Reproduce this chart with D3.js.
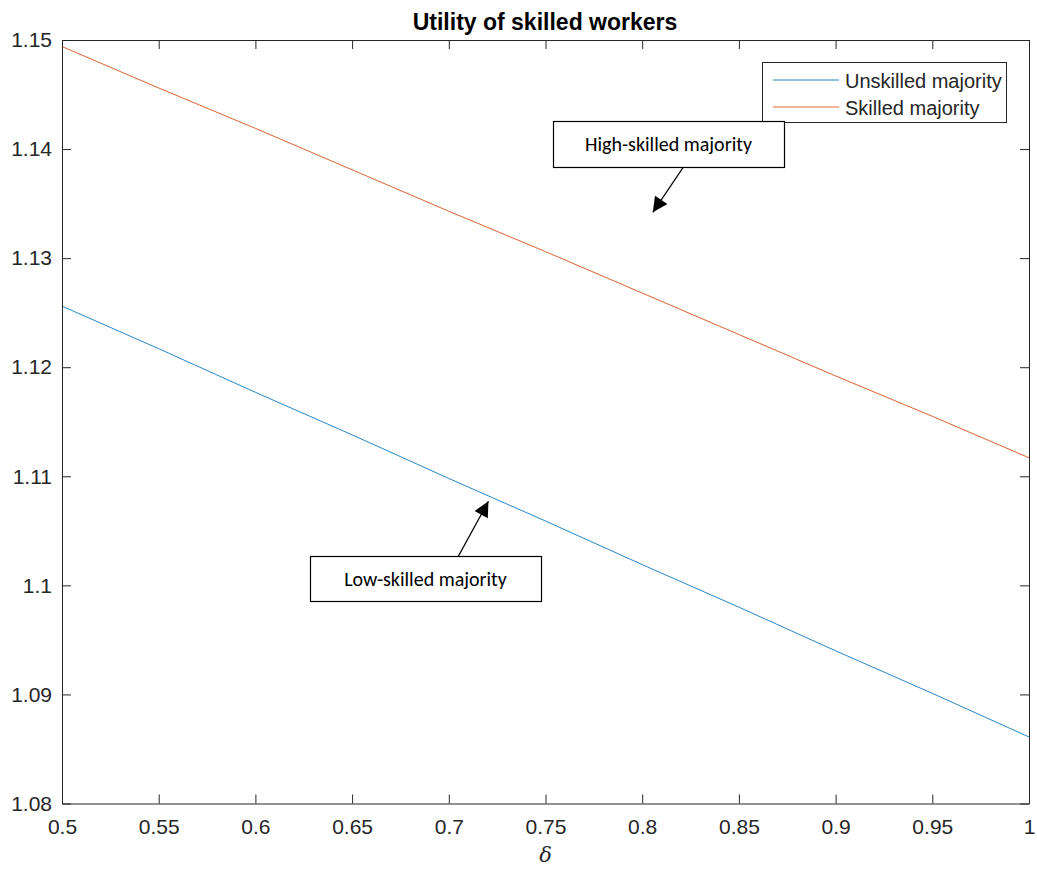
<!DOCTYPE html>
<html>
<head>
<meta charset="utf-8">
<script src="https://cdn.jsdelivr.net/npm/d3@7"></script>
<style>
  html, body { margin: 0; padding: 0; background: #fff; }
  svg { display: block; }
</style>
</head>
<body>
<svg id="chart" width="1037" height="877"></svg>
<script>
// ---- data ----
const deltaValues = [0.5, 0.55, 0.6, 0.65, 0.7, 0.75, 0.8, 0.85, 0.9, 0.95, 1.0];
const unskilledMajority = [1.1256, 1.1217, 1.1177, 1.1138, 1.1098, 1.1059, 1.1019, 1.0980, 1.0940, 1.0901, 1.0861];
const skilledMajority   = [1.1494, 1.1456, 1.1419, 1.1381, 1.1343, 1.1306, 1.1268, 1.1230, 1.1192, 1.1155, 1.1117];
const xTicks = [0.5, 0.55, 0.6, 0.65, 0.7, 0.75, 0.8, 0.85, 0.9, 0.95, 1];
const xTickLabels = ["0.5", "0.55", "0.6", "0.65", "0.7", "0.75", "0.8", "0.85", "0.9", "0.95", "1"];
const yTicks = [1.08, 1.09, 1.1, 1.11, 1.12, 1.13, 1.14, 1.15];
const yTickLabels = ["1.08", "1.09", "1.1", "1.11", "1.12", "1.13", "1.14", "1.15"];
const seriesNames = ["Unskilled majority", "Skilled majority"];
const titleText = "Utility of skilled workers";
const xLabelText = "δ";
const annotations = [
  { text: "High-skilled majority", from: [0.8245, 1.1392], to: [0.8055, 1.1342] },
  { text: "Low-skilled majority",  from: [0.7010, 1.1014], to: [0.7205, 1.1077] }
];

// ---- layout ----
const svg = d3.select("#chart");
const L = 62, R = 1029, T = 40, B = 803.5;
const x = d3.scaleLinear().domain([0.5, 1]).range([L, R]);
const y = d3.scaleLinear().domain([1.08, 1.15]).range([B, T]);
const axisColor = "#262626";
const font = "'Liberation Sans', Arial, Helvetica, sans-serif";
const colors = ["#0072BD", "#D95319"];

// lines
const line = d3.line().x((d, i) => x(deltaValues[i])).y(d => y(d));
[unskilledMajority, skilledMajority].forEach((s, k) => {
  svg.append("path").datum(s)
    .attr("fill", "none")
    .attr("stroke", colors[k])
    .attr("stroke-width", 1)
    .attr("opacity", k === 0 ? 0.85 : 0.9)
    .attr("d", line);
});

// axes
const tickLen = 9;
const xAxisB = d3.axisBottom(x).tickValues(xTicks).tickFormat((d, i) => xTickLabels[i]).tickSizeInner(-tickLen).tickSizeOuter(0).tickPadding(16);
const xAxisT = d3.axisTop(x).tickValues(xTicks).tickFormat("").tickSizeInner(-tickLen).tickSizeOuter(0);
const yAxisL = d3.axisLeft(y).tickValues(yTicks).tickFormat((d, i) => yTickLabels[i]).tickSizeInner(-tickLen).tickSizeOuter(0).tickPadding(10);
const yAxisR = d3.axisRight(y).tickValues(yTicks).tickFormat("").tickSizeInner(-tickLen).tickSizeOuter(0);

function styleAxis(g) {
  g.select(".domain").attr("stroke", axisColor).attr("stroke-width", 1);
  g.selectAll(".tick line").attr("stroke", axisColor).attr("stroke-width", 1);
  g.selectAll(".tick text").attr("fill", axisColor).style("font-family", font).style("font-size", "21px");
}
svg.append("g").attr("transform", `translate(0,${B})`).call(xAxisB).call(styleAxis);
svg.append("g").attr("transform", `translate(0,${T})`).call(xAxisT).call(styleAxis);
svg.append("g").attr("transform", `translate(${L},0)`).call(yAxisL).call(styleAxis);
svg.append("g").attr("transform", `translate(${R},0)`).call(yAxisR).call(styleAxis);

// title
svg.append("text").attr("x", 545).attr("y", 30)
  .attr("text-anchor", "middle").attr("font-family", font)
  .attr("font-weight", "bold").attr("font-size", "23px").attr("fill", "#000")
  .text(titleText);

// x label
svg.append("text").attr("x", x(0.75)).attr("y", 862)
  .attr("text-anchor", "middle").attr("font-family", "'DejaVu Serif', 'Liberation Serif', serif")
  .attr("font-style", "italic").attr("font-size", "21px").attr("fill", axisColor)
  .text(xLabelText);

// legend
const lg = svg.append("g");
lg.append("rect").attr("x", 762.5).attr("y", 62.5).attr("width", 244).attr("height", 60)
  .attr("fill", "#fff").attr("stroke", axisColor).attr("stroke-width", 1);
seriesNames.forEach((n, k) => {
  const yy = 80 + k * 27;
  lg.append("line").attr("x1", 773).attr("x2", 839).attr("y1", yy).attr("y2", yy)
    .attr("stroke", colors[k]).attr("stroke-width", 1).attr("opacity", 0.85);
  lg.append("text").attr("x", 845).attr("y", yy + 7.5)
    .attr("font-family", font).attr("font-size", "20px").attr("fill", axisColor).text(n);
});

// annotations
const defs = svg.append("defs");
defs.append("marker").attr("id", "arrow").attr("viewBox", "0 0 10 10")
  .attr("refX", 10).attr("refY", 5).attr("markerWidth", 17).attr("markerHeight", 15)
  .attr("markerUnits", "userSpaceOnUse").attr("orient", "auto")
  .append("path").attr("d", "M0,0 L10,5 L0,10 Z").attr("fill", "#000");

const boxes = [
  { x: 553, y: 121, w: 231, h: 46 },
  { x: 310, y: 556, w: 231, h: 45 }
];
annotations.forEach((a, i) => {
  svg.append("line")
    .attr("x1", x(a.from[0])).attr("y1", y(a.from[1]))
    .attr("x2", x(a.to[0])).attr("y2", y(a.to[1]))
    .attr("stroke", "#000").attr("stroke-width", 1.2)
    .attr("marker-end", "url(#arrow)");
  const b = boxes[i];
  svg.append("rect").attr("x", b.x + 0.5).attr("y", b.y + 0.5).attr("width", b.w).attr("height", b.h)
    .attr("fill", "#fff").attr("stroke", "#000").attr("stroke-width", 1.2);
  svg.append("text").attr("x", b.x + b.w / 2).attr("y", b.y + b.h / 2 + 7)
    .attr("text-anchor", "middle").attr("font-family", "Carlito, Lato, 'Open Sans', sans-serif")
    .attr("font-size", "20px").attr("fill", "#000").text(a.text);
});
</script>
</body>
</html>
